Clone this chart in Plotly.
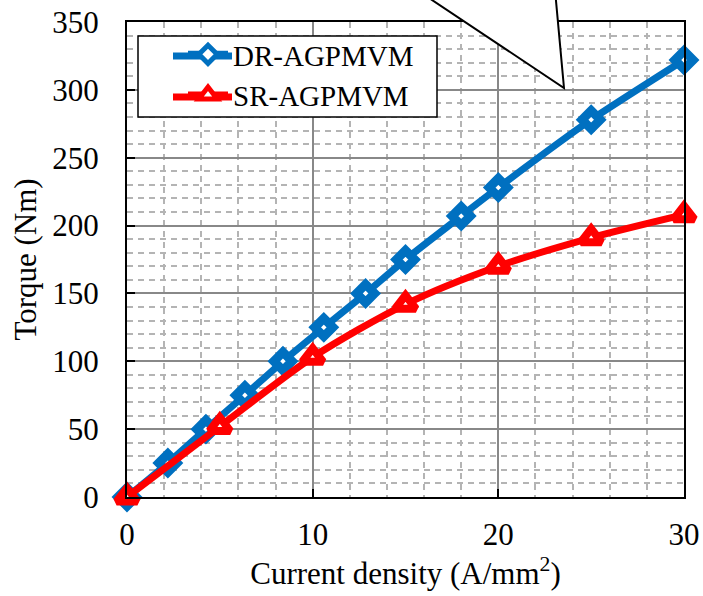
import plotly.graph_objects as go

# ---------------- data ----------------
dr_x = [0, 2.2, 4.25, 6.35, 8.4, 10.6, 12.85, 15.0, 18.0, 20.0, 25.0, 30.0]
dr_y = [0, 25, 50, 75, 100, 125, 150, 175, 207, 228, 278, 322]
sr_x = [0, 5, 10, 15, 20, 25, 30]
sr_y = [0, 52, 103, 142, 170, 191, 208]
x_ticks = [0, 10, 20, 30]
y_ticks = [0, 50, 100, 150, 200, 250, 300, 350]
names = ["DR-AGPMVM", "SR-AGPMVM"]

FONT = "Liberation Serif"
FS = 31
FS_LEG = 29
BLUE = "#0070C0"
RED = "#FF0000"

W, H = 703, 596
L, R, T, B = 127, 19, 22, 99
pw, ph = W - L - R, H - T - B


def px(xp):
    return (xp - L) / pw


def py(yp):
    return (H - B - yp) / ph


fig = go.Figure()
fig.add_trace(go.Scatter(
    x=dr_x, y=dr_y, name=names[0], mode="lines+markers",
    line=dict(color=BLUE, width=7, shape="spline", smoothing=0.6),
    marker=dict(symbol="diamond", size=14, color="white",
                line=dict(color=BLUE, width=9)),
    cliponaxis=False,
))
fig.add_trace(go.Scatter(
    x=sr_x, y=sr_y, name=names[1], mode="lines+markers",
    line=dict(color=RED, width=7, shape="spline", smoothing=0.8),
    marker=dict(symbol="triangle-up", size=18, color="white",
                line=dict(color=RED, width=8)),
    cliponaxis=False,
))

axis_common = dict(
    showline=True, linecolor="black", linewidth=2, mirror=True,
    ticks="inside", ticklen=8, tickwidth=2, tickcolor="black",
    showgrid=True, gridcolor="#888888", gridwidth=1.5,
    zeroline=False, automargin=False,
    tickfont=dict(family=FONT, size=FS, color="black"),
)

fig.update_xaxes(
    range=[0, 30], tickvals=x_ticks,
    minor=dict(dtick=2, showgrid=True, gridcolor="#b4b4b4", gridwidth=1.5,
               griddash="6px,5px", ticks=""),
    title=dict(text="Current density (A/mm<sup>2</sup>)",
               font=dict(family=FONT, size=FS, color="black"), standoff=6),
    ticklabelstandoff=9,
    **axis_common,
)
fig.update_yaxes(
    range=[0, 350], tickvals=y_ticks,
    minor=dict(dtick=10, showgrid=True, gridcolor="#b4b4b4", gridwidth=1.5,
               griddash="6px,5px", ticks=""),
    title=dict(text="Torque (Nm)",
               font=dict(family=FONT, size=FS, color="black"), standoff=6),
    ticklabelstandoff=20,
    **axis_common,
)

# legend frame (drawn as shape), callout polygon, longer legend lines
x0, x1 = px(138), px(437)
y0, y1 = py(117), py(36)
shapes = [
    dict(type="rect", xref="paper", yref="paper", x0=x0, x1=x1, y0=y0, y1=y1,
         fillcolor="white", line=dict(color="black", width=1.5), layer="above"),
    dict(type="path", xref="paper", yref="paper",
         path=f"M {px(417)} {py(-10)} L {px(564)} {py(88)} L {px(555)} {py(-10)} Z",
         fillcolor="white", line=dict(color="black", width=2), layer="above"),
    dict(type="line", xref="paper", yref="paper", x0=px(173), x1=px(232),
         y0=py(56), y1=py(56), line=dict(color=BLUE, width=7), layer="above"),
    dict(type="line", xref="paper", yref="paper", x0=px(173), x1=px(232),
         y0=py(97), y1=py(97), line=dict(color=RED, width=7), layer="above"),
]

fig.update_layout(
    width=W, height=H,
    margin=dict(l=L, r=R, t=T, b=B, autoexpand=False),
    paper_bgcolor="white", plot_bgcolor="white",
    font=dict(family=FONT, size=FS, color="black"),
    showlegend=True,
    legend=dict(x=px(183), y=py(29), xanchor="left", yanchor="top",
                bgcolor="rgba(0,0,0,0)", borderwidth=0,
                itemwidth=40, font=dict(family=FONT, size=FS_LEG, color="black"),
                tracegroupgap=0),
    shapes=shapes,
)

fig.write_html("out.html")
